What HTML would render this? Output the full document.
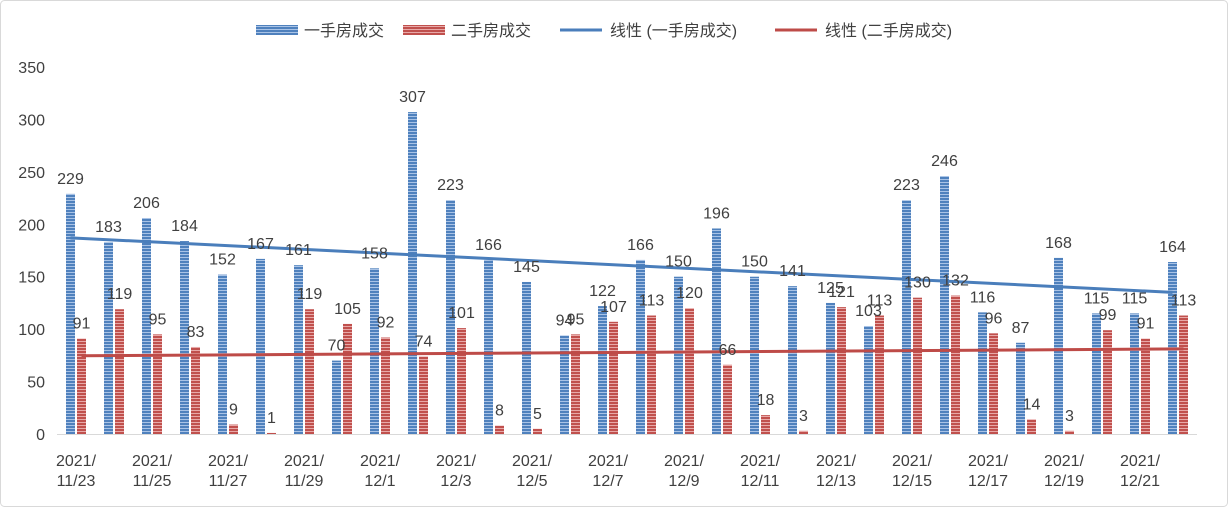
<!DOCTYPE html>
<html><head><meta charset="utf-8"><style>
body{margin:0;background:#fff;font-family:"Liberation Sans","Noto Sans CJK SC",sans-serif;}
svg text{font-family:"Liberation Sans","Noto Sans CJK SC",sans-serif;fill:#404040;}
</style></head><body>
<svg id="chart" width="1229" height="508" xmlns="http://www.w3.org/2000/svg">
<defs>
<pattern id="pb" width="4" height="3" patternUnits="userSpaceOnUse"><rect width="4" height="3" fill="#a9c3e6"/><rect width="4" height="2" fill="#4f81bd"/></pattern>
<pattern id="pr" width="4" height="3" patternUnits="userSpaceOnUse"><rect width="4" height="3" fill="#e8a9a8"/><rect width="4" height="2" fill="#c0504d"/></pattern>
</defs>
<rect x="0.5" y="0.5" width="1227" height="506" rx="4" fill="#fff" stroke="#d9d9d9"/>
<g>
<rect x="256" y="25" width="42" height="10" fill="url(#pb)"/>
<text x="304" y="36" font-size="16">一手房成交</text>
<rect x="403" y="25" width="42" height="10" fill="url(#pr)"/>
<text x="451" y="36" font-size="16">二手房成交</text>
<line x1="560" y1="30" x2="602" y2="30" stroke="#4a7ebb" stroke-width="3"/>
<text x="610" y="36" font-size="16">线性 (一手房成交)</text>
<line x1="775" y1="30" x2="817" y2="30" stroke="#be4b48" stroke-width="3"/>
<text x="825" y="36" font-size="16">线性 (二手房成交)</text>
</g>
<g id="yaxis"></g>
<g id="xaxis"></g>
<g id="bars"></g>
<g id="trends"></g>
<g id="labels"></g>
</svg>
<script>
const categories=["11/23","11/24","11/25","11/26","11/27","11/28","11/29","11/30","12/1","12/2","12/3","12/4","12/5","12/6","12/7","12/8","12/9","12/10","12/11","12/12","12/13","12/14","12/15","12/16","12/17","12/18","12/19","12/20","12/21","12/22"];
const newHomes=[229,183,206,184,152,167,161,70,158,307,223,166,145,94,122,166,150,196,150,141,125,103,223,246,116,87,168,115,115,164];
const usedHomes=[91,119,95,83,9,1,119,105,92,74,101,8,5,95,107,113,120,66,18,3,121,113,130,132,96,14,3,99,91,113];
const yTicks=[0,50,100,150,200,250,300,350];
const NS="http://www.w3.org/2000/svg";
const x0=57,step=38,yBase=434,yScale=367/350;
const y=v=>yBase-v*yScale;
const cx=i=>x0+step/2+step*i;
function mk(tag,attrs,parent,txt){const e=document.createElementNS(NS,tag);for(const k in attrs)e.setAttribute(k,attrs[k]);if(txt!==undefined)e.textContent=txt;document.getElementById(parent).appendChild(e);return e;}
yTicks.forEach(t=>{const e=mk('text',{x:45,y:y(t)+6,'font-size':16,'text-anchor':'end'},'yaxis',t);

});
const ax=mk('line',{x1:x0,y1:yBase+0.5,x2:x0+step*categories.length,y2:yBase+0.5,stroke:'#d9d9d9'},'xaxis');


categories.forEach((c,i)=>{if(i%2)return;const e=mk('text',{'font-size':16,'text-anchor':'middle'},'xaxis');


const a=document.createElementNS(NS,'tspan');a.setAttribute('x',cx(i));a.setAttribute('y',466);a.textContent='2021/';e.appendChild(a);
const b=document.createElementNS(NS,'tspan');b.setAttribute('x',cx(i));b.setAttribute('y',486);b.textContent=c;e.appendChild(b);});
const bw=9;
categories.forEach((c,i)=>{
const b1=mk('rect',{x:cx(i)-bw-1,y:y(newHomes[i]),width:bw,height:newHomes[i]*yScale,fill:'url(#pb)'},'bars');


const b2=mk('rect',{x:cx(i)+1,y:y(usedHomes[i]),width:bw,height:usedHomes[i]*yScale,fill:'url(#pr)'},'bars');


const l1=mk('text',{x:cx(i)-bw/2-1,y:y(newHomes[i])-10,'font-size':16,'text-anchor':'middle'},'labels',newHomes[i]);


const l2=mk('text',{x:cx(i)+bw/2+1,y:y(usedHomes[i])-10,'font-size':16,'text-anchor':'middle'},'labels',usedHomes[i]);

});
function fit(d){const n=d.length;let sx=0,sy=0,sxy=0,sxx=0;d.forEach((v,i)=>{sx+=i;sy+=v;sxy+=i*v;sxx+=i*i;});const m=(n*sxy-sx*sy)/(n*sxx-sx*sx);return [m,(sy-m*sx)/n];}
[[newHomes,'#4a7ebb','trend-new',-bw/2-1],[usedHomes,'#be4b48','trend-used',bw/2+1]].forEach(([d,col,nm,off])=>{
const [m,b]=fit(d);const n=d.length-1;
const l=mk('line',{x1:cx(0)+off,y1:y(b),x2:cx(n)+off,y2:y(b+m*n),stroke:col,'stroke-width':3},'trends');

});
</script>
</body></html>
